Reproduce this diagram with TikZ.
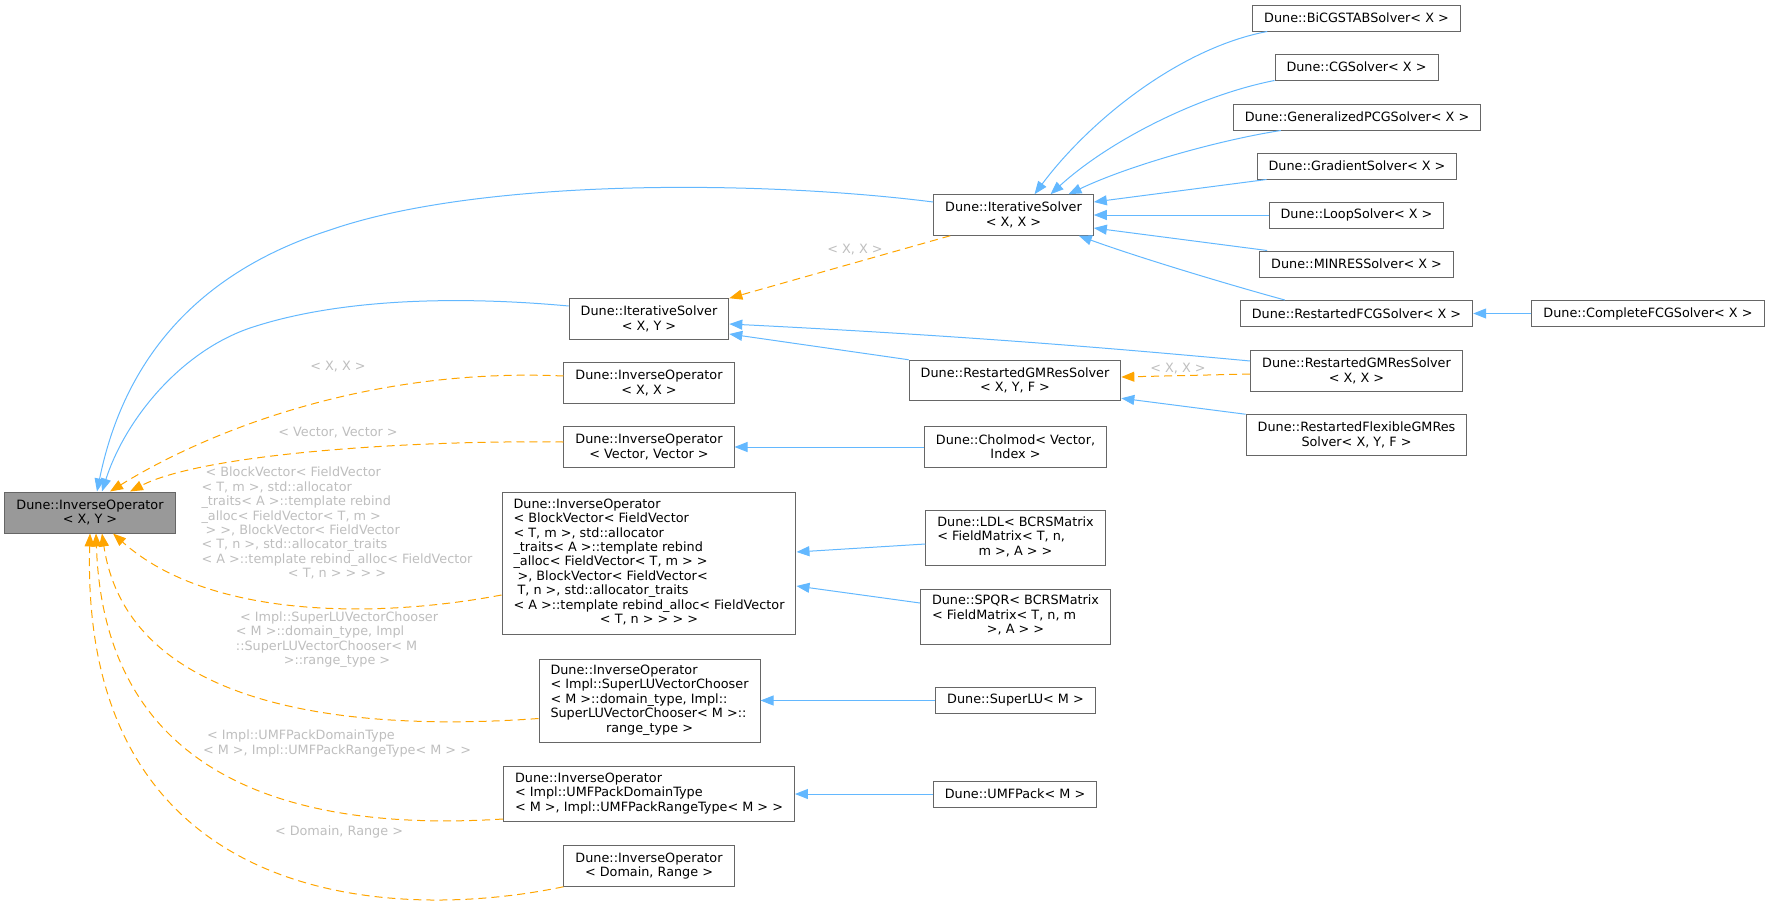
\documentclass[tikz,border=0pt]{standalone}
\usepackage{fontspec}
\setmainfont{DejaVu Sans}
\usetikzlibrary{arrows.meta}
\definecolor{dEdge}{HTML}{63B8FF}
\definecolor{dTmpl}{HTML}{FFA500}
\definecolor{dBorder}{HTML}{666666}
\definecolor{dRoot}{HTML}{999999}
\definecolor{dLabel}{HTML}{BEBEBE}
\newcommand{\dfont}{\fontsize{12.8pt}{14.4pt}\selectfont}
\newcommand{\lastc}[1]{\multicolumn{1}{@{}c@{}}{#1}}
\tikzset{
  cls/.style  = {draw=dBorder, fill=white, line width=1pt, align=center,
                 font=\dfont, inner xsep=11.5pt, inner ysep=0pt, minimum height=26pt},
  clsr/.style = {cls, fill=dRoot},
  inh/.style  = {-{Triangle[length=13pt,width=10pt]}, draw=dEdge, line width=1pt},
  tpl/.style  = {-{Triangle[length=13pt,width=10pt]}, draw=dTmpl, line width=1pt,
                 dash pattern=on 8pt off 5pt},
  lbl/.style  = {font=\dfont, text=dLabel, inner sep=0pt},
}

\begin{document}
\begin{tikzpicture}[x=1pt, y=-1pt]
  \useasboundingbox (0,0) rectangle (1771,908);
  \node[clsr, minimum height=41pt] (root) at (90,512.5) {Dune::InverseOperator\\< X, Y >};
  \node[cls, minimum height=40.5pt] (itxy)  at (649,319) {Dune::IterativeSolver\\< X, Y >};
  \node[cls, minimum height=40.5pt] (invxx) at (649,383) {Dune::InverseOperator\\< X, X >};
  \node[cls, minimum height=40.5pt] (invvec) at (649,447) {Dune::InverseOperator\\< Vector, Vector >};
  \node[cls, minimum height=142pt] (invblock) at (649,563) {\begin{tabular}{@{}l@{}}Dune::InverseOperator\\< BlockVector< FieldVector\\< T, m >, std::allocator\\\_traits< A >::template rebind\\\_alloc< FieldVector< T, m > >\\\ >, BlockVector< FieldVector<\\\ T, n >, std::allocator\_traits\\< A >::template rebind\_alloc< FieldVector\\\lastc{< T, n > > > >}\end{tabular}};
  \node[cls, minimum height=83pt] (invslu) at (649.5,700.5) {\begin{tabular}{@{}l@{}}Dune::InverseOperator\\< Impl::SuperLUVectorChooser\\< M >::domain\_type, Impl::\\SuperLUVectorChooser< M >::\\\lastc{range\_type >}\end{tabular}};
  \node[cls, minimum height=55pt] (invumf) at (649,794) {\begin{tabular}{@{}l@{}}Dune::InverseOperator\\< Impl::UMFPackDomainType\\< M >, Impl::UMFPackRangeType< M > >\end{tabular}};
  \node[cls, minimum height=40.5pt] (invdr) at (649,866) {Dune::InverseOperator\\< Domain, Range >};

  \node[cls, minimum height=40.5pt] (itxx) at (1013.5,215) {Dune::IterativeSolver\\< X, X >};
  \node[cls, minimum height=40.5pt] (rgmxyf) at (1015,380.5) {Dune::RestartedGMResSolver\\< X, Y, F >};
  \node[cls, minimum height=40.5pt] (cholmod) at (1015.5,447) {Dune::Cholmod< Vector,\\Index >};
  \node[cls, minimum height=55pt] (ldl) at (1015.5,538) {\begin{tabular}{@{}l@{}}Dune::LDL< BCRSMatrix\\< FieldMatrix< T, n,\\\lastc{m >, A > >}\end{tabular}};
  \node[cls, minimum height=55pt] (spqr) at (1015.5,616.5) {\begin{tabular}{@{}l@{}}Dune::SPQR< BCRSMatrix\\< FieldMatrix< T, n, m\\\lastc{>, A > >}\end{tabular}};
  \node[cls] (superlu) at (1015.5,700.5) {Dune::SuperLU< M >};
  \node[cls] (umfpack) at (1015,794) {Dune::UMFPack< M >};

  \node[cls] (bicg)   at (1356.5,18)  {Dune::BiCGSTABSolver< X >};
  \node[cls] (cg)     at (1356.5,67)  {Dune::CGSolver< X >};
  \node[cls] (gpcg)   at (1357,117)   {Dune::GeneralizedPCGSolver< X >};
  \node[cls] (grad)   at (1357,166)   {Dune::GradientSolver< X >};
  \node[cls] (loop)   at (1356.5,215) {Dune::LoopSolver< X >};
  \node[cls] (minres) at (1356.5,264) {Dune::MINRESSolver< X >};
  \node[cls] (rfcg)   at (1356.5,313.5) {Dune::RestartedFCGSolver< X >};
  \node[cls] (cfcg)   at (1648,313.5) {Dune::CompleteFCGSolver< X >};
  \node[cls, minimum height=40.5pt] (rgmxx) at (1356.5,371) {Dune::RestartedGMResSolver\\< X, X >};
  \node[cls, minimum height=40.5pt] (rflex) at (1356.5,435) {Dune::RestartedFlexibleGMRes\\Solver< X, Y, F >};

  \node[lbl] (lxx)    at (338,367)   {< X, X >};
  \node[lbl] (lvec)   at (338,433)   {< Vector, Vector >};
  \node[lbl] (lblock) at (337,524.5) {\begin{tabular}{@{}l@{}}\ < BlockVector< FieldVector\\< T, m >, std::allocator\\\_traits< A >::template rebind\\\_alloc< FieldVector< T, m >\\\ > >, BlockVector< FieldVector\\< T, n >, std::allocator\_traits\\< A >::template rebind\_alloc< FieldVector\\\lastc{< T, n > > > >}\end{tabular}};
  \node[lbl] (lslu)   at (337,640)   {\begin{tabular}{@{}l@{}}\ < Impl::SuperLUVectorChooser\\< M >::domain\_type, Impl\\::SuperLUVectorChooser< M\\\lastc{>::range\_type >}\end{tabular}};
  \node[lbl] (lumf)   at (337,744)   {\begin{tabular}{@{}l@{}}\ < Impl::UMFPackDomainType\\< M >, Impl::UMFPackRangeType< M > >\end{tabular}};
  \node[lbl] (ldr)    at (339,832)   {< Domain, Range >};
  \node[lbl] (lxxa)   at (855,250)   {< X, X >};
  \node[lbl] (lxxb)   at (1178,369)  {< X, X >};

  \draw[inh] ([yshift=13pt]itxx.west) .. controls (760,180) and (480,178) .. (330,230)
             .. controls (230,262) and (130,330) .. ([xshift=7pt]root.north);
  \draw[inh] ([yshift=13pt]itxy.west) .. controls (460,296) and (340,298) .. (250,328)
             .. controls (180,352) and (125,420) .. ([xshift=12pt]root.north);
  \draw[tpl] ([yshift=7pt]invxx.west) .. controls (364,367) and (203,434) .. ([xshift=20pt]root.north);
  \draw[tpl] ([yshift=5pt]invvec.west) .. controls (400,440) and (200,455) .. ([xshift=40pt]root.north);
  \draw[tpl] ([yshift=-32pt]invblock.west) .. controls (380,618) and (210,620) .. ([xshift=23pt]root.south);
  \draw[tpl] ([yshift=-18pt]invslu.west) .. controls (380,730) and (130,720) .. ([xshift=12pt]root.south);
  \draw[tpl] ([yshift=-25pt]invumf.west) .. controls (330,830) and (105,800) .. ([xshift=6pt]root.south);
  \draw[tpl] (invdr.south west) .. controls (380,925) and (80,900) .. (root.south);

  \draw[inh] ([xshift=15pt]bicg.south west) .. controls (1180,48) and (1090,120) .. ([xshift=21pt]itxx.north);
  \draw[inh] (cg.south west) .. controls (1200,95) and (1110,140) .. ([xshift=37pt]itxx.north);
  \draw[inh] ([xshift=48pt]gpcg.south west) .. controls (1220,140) and (1130,165) .. ([xshift=55pt]itxx.north);
  \draw[inh] ([xshift=10pt]grad.south west) -- ([yshift=13pt]itxx.east);
  \draw[inh] (loop) -- (itxx);
  \draw[inh] ([xshift=8pt]minres.north west) -- ([yshift=-13pt]itxx.east);
  \draw[inh] ([xshift=45pt]rfcg.north west) .. controls (1230,285) and (1140,258) .. ([xshift=-15pt]itxx.south east);
  \draw[inh] (cfcg) -- (rfcg);
  \draw[tpl] ([xshift=17pt]itxx.south west) -- (itxy.north east);
  \draw[inh] ([yshift=10pt]rgmxx.west) .. controls (1100,347) and (950,335) .. ([yshift=-5pt]itxy.east);
  \draw[inh] (rgmxyf.north west) -- ([yshift=-15pt]itxy.east);
  \draw[tpl] ([yshift=-3pt]rgmxx.west) -- ([yshift=3.5pt]rgmxyf.east);
  \draw[inh] (rflex.north west) -- ([yshift=3pt]rgmxyf.south east);
  \draw[inh] (cholmod) -- (invvec);
  \draw[inh] ([yshift=-6pt]ldl.west) -- ([yshift=11pt]invblock.east);
  \draw[inh] ([yshift=13.5pt]spqr.west) -- ([yshift=-23pt]invblock.east);
  \draw[inh] (superlu) -- (invslu);
  \draw[inh] (umfpack) -- (invumf);
\end{tikzpicture}
\end{document}
